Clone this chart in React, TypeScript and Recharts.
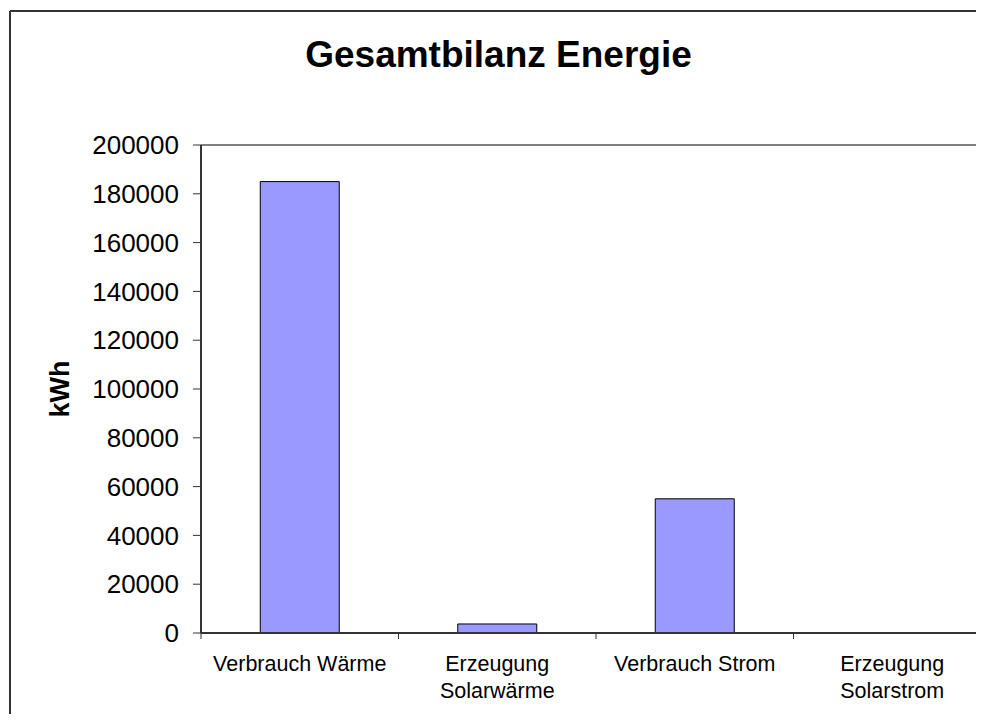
import React from 'react';
import { BarChart, Bar, XAxis, YAxis, ReferenceLine } from 'recharts';

const categories = ['Verbrauch Wärme', 'Erzeugung Solarwärme', 'Verbrauch Strom', 'Erzeugung Solarstrom'];
const labelLines: string[][] = [
  ['Verbrauch Wärme'],
  ['Erzeugung', 'Solarwärme'],
  ['Verbrauch Strom'],
  ['Erzeugung', 'Solarstrom'],
];
const values = [185000, 3700, 55000, 0];
const yTicks = [0, 20000, 40000, 60000, 80000, 100000, 120000, 140000, 160000, 180000, 200000];

const data = categories.map((c, i) => ({ name: c, value: values[i] }));

const FONT = '"Liberation Sans", Arial, sans-serif';

const CategoryTick = (props: any) => {
  const { x, y, payload, width, visibleTicksCount, index } = props;
  const lines = labelLines[payload.index ?? index] || [String(payload.value)];
  const half = width / (visibleTicksCount || 4) / 2;
  const isLast = (payload.index ?? index) === (visibleTicksCount || 4) - 1;
  return (
    <g>
      <line x1={x - half} y1={y} x2={x - half} y2={y + 6} stroke="#333" strokeWidth={1} />
      {isLast && <line x1={x + half} y1={y} x2={x + half} y2={y + 6} stroke="#333" strokeWidth={1} />}
      {lines.map((l, i) => (
        <text
          key={i}
          x={x}
          y={y + 38 + i * 27}
          textAnchor="middle"
          fontFamily={FONT}
          fontSize={21.5}
          fill="#000"
        >
          {l}
        </text>
      ))}
    </g>
  );
};

const YLabel = (props: any) => {
  const { viewBox } = props;
  const cx = viewBox.x + 52;
  const cy = viewBox.y + viewBox.height / 2;
  return (
    <text
      x={cx}
      y={cy}
      transform={`rotate(-90, ${cx}, ${cy})`}
      textAnchor="middle"
      dominantBaseline="central"
      fontFamily={FONT}
      fontSize={27}
      fontWeight="bold"
      fill="#000"
    >
      kWh
    </text>
  );
};

export default function App() {
  return (
    <div style={{ position: 'relative', width: 976, height: 706, overflow: 'hidden', fontFamily: FONT }}>
      <style>{'*:focus, *:focus-visible { outline: none !important; }'}</style>
      <div style={{ position: 'absolute', left: 0, top: 0, width: 1000, height: 714 }}>
        <BarChart
          width={1000}
          height={714}
          data={data}
          accessibilityLayer={false}
          style={{ outline: 'none' }}
          margin={{ top: 137, right: 17, bottom: 0, left: 0 }}
          barCategoryGap="30%"
        >
          <XAxis
            dataKey="name"
            type="category"
            interval={0}
            height={89}
            tickSize={0}
            tickMargin={0}
            axisLine={{ stroke: '#333', strokeWidth: 2 }}
            tickLine={false}
            tick={<CategoryTick />}
          />
          <YAxis
            width={193}
            domain={[0, 200000]}
            ticks={yTicks}
            interval={0}
            allowDataOverflow
            tickSize={8}
            tickMargin={14}
            axisLine={{ stroke: '#333', strokeWidth: 2 }}
            tickLine={{ stroke: '#333', strokeWidth: 1 }}
            tick={{ fontSize: 26, fill: '#000', fontFamily: FONT }}
            label={<YLabel />}
          />
          <ReferenceLine y={200000} stroke="#808080" strokeWidth={2} />
          <Bar
            dataKey="value"
            fill="#9999FF"
            stroke="#000"
            strokeWidth={1}
            isAnimationActive={false}
          />
        </BarChart>
      </div>
      <svg
        width={976}
        height={706}
        style={{ position: 'absolute', left: 0, top: 0, pointerEvents: 'none' }}
      >
        <line x1={2} y1={3} x2={976} y2={3} stroke="#333" strokeWidth={2} />
        <line x1={2} y1={3} x2={2} y2={706} stroke="#333" strokeWidth={2} />
        <text x={490.5} y={59} textAnchor="middle" fontFamily={FONT} fontSize={37} fontWeight="bold" fill="#000">
          Gesamtbilanz Energie
        </text>
      </svg>
    </div>
  );
}
